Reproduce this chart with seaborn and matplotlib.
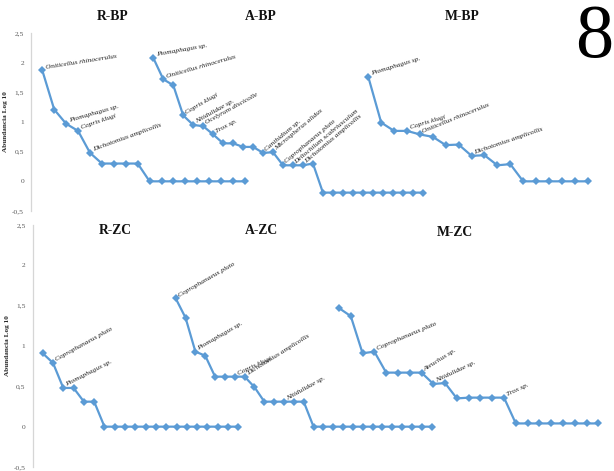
import matplotlib
matplotlib.use("Agg")
import matplotlib.pyplot as plt
import seaborn as sns

sns.set_theme(style="white")
plt.rcParams["font.family"] = ["Liberation Serif", "DejaVu Serif"]

# Log10 abundance per rank (rank-abundance curves)
r_bp = [1.87, 1.21, 0.97, 0.85, 0.48, 0.30, 0.30, 0.30, 0.30,
        0, 0, 0, 0, 0, 0, 0, 0, 0]
a_bp = [2.08, 1.72, 1.62, 1.11, 0.95, 0.93, 0.79, 0.64, 0.64, 0.58, 0.58,
        0.48, 0.49, 0.27, 0.27, 0.27, 0.30,
        -0.19, -0.19, -0.19, -0.19, -0.19, -0.19, -0.19, -0.19, -0.19, -0.19, -0.19]
m_bp = [1.76, 0.99, 0.85, 0.85, 0.79, 0.75, 0.61, 0.62, 0.43, 0.44, 0.27, 0.29,
        0, 0, 0, 0, 0, 0]
r_zc = [0.91, 0.79, 0.48, 0.48, 0.31, 0.31,
        0, 0, 0, 0, 0, 0, 0, 0, 0, 0, 0, 0, 0, 0]
a_zc = [1.59, 1.35, 0.93, 0.88, 0.62, 0.62, 0.62, 0.62, 0.49, 0.31, 0.31, 0.31, 0.31, 0.31,
        0, 0, 0, 0, 0, 0, 0, 0, 0, 0, 0, 0, 0]
m_zc = [1.47, 1.37, 0.91, 0.93, 0.67, 0.67, 0.67, 0.67, 0.53, 0.54, 0.35, 0.36, 0.36, 0.36, 0.36,
        0.04, 0.04, 0.04, 0.04, 0.04, 0.04, 0.04, 0.04]

# Species names attached to ranks: (rank index, name, text angle)
r_bp_labels = [(0, "Oniticellus rhinocerulus", 9), (2, "Ptomaphagus sp.", 16),
               (3, "Copris klugi", 19), (4, "Dichotomius amplicollis", 20)]
a_bp_labels = [(0, "Ptomaphagus sp.", 10), (1, "Oniticellus rhinocerulus", 16),
               (3, "Copris klugi", 30), (4, "Nitidulidae sp.", 29),
               (5, "Ocelyrum discicolle", 29), (6, "Trox sp.", 28),
               (11, "Canthidium sp.", 40), (12, "Microspherus alidus", 40),
               (13, "Coprophanaeus pluto", 40), (14, "Deltochilum scabriusculum", 40),
               (15, "Dichotomius amplicollis", 40)]
m_bp_labels = [(0, "Ptomaphagus sp.", 17), (3, "Copris klugi", 17),
               (4, "Oniticellus rhinocerulus", 22), (8, "Dichotomius amplicollis", 19)]
r_zc_labels = [(1, "Coprophanaeus pluto", 29), (2, "Ptomaphagus sp.", 27)]
a_zc_labels = [(0, "Coprophanaeus pluto", 30), (2, "Ptomaphagus sp.", 30),
               (6, "Copris klugi", 25), (7, "Dichotomius amplicollis", 32),
               (11, "Nitidulidae sp.", 29)]
m_zc_labels = [(3, "Coprophanaeus pluto", 23), (7, "Ateuchus sp.", 32),
               (8, "Nitidulidae sp.", 25), (14, "Trox sp.", 25)]

y_ticks = [-0.5, 0, 0.5, 1, 1.5, 2, 2.5]
y_tick_labels = ["-0,5", "0", "0,5", "1", "1,5", "2", "2,5"]

W, H = 614, 471
LINE = "#5B9BD5"

fig = plt.figure(figsize=(W / 100, H / 100), dpi=100)
fig.patch.set_facecolor("white")


def px_rect(x0, x1, ytop, ybot):
    return [x0 / W, (H - ybot) / H, (x1 - x0) / W, (ybot - ytop) / H]


def base_axis(axis_x, ytop, ybot):
    ax = fig.add_axes(px_rect(axis_x, 612, ytop, ybot))
    ax.set_ylim(-0.5, 2.5)
    ax.set_xlim(0, 1)
    ax.set_xticks([])
    ax.set_yticks(y_ticks)
    ax.set_yticklabels(y_tick_labels)
    ax.tick_params(axis="y", length=0, pad=5, labelsize=5.4, labelcolor="#5a5a5a")
    for s in ["top", "right", "bottom"]:
        ax.spines[s].set_visible(False)
    ax.spines["left"].set_color("#d6d6d6")
    ax.spines["left"].set_linewidth(0.9)
    ax.patch.set_alpha(0)
    ax.set_ylabel("Abundancia Log 10", fontsize=5.2, fontweight="bold", labelpad=3)
    return ax


def curve(values, labels, x0, x1, ytop, ybot):
    ax = fig.add_axes(px_rect(x0, x1, ytop, ybot))
    ax.set_xlim(0, len(values) - 1)
    ax.set_ylim(-0.5, 2.5)
    ax.axis("off")
    ax.patch.set_alpha(0)
    sns.lineplot(x=list(range(len(values))), y=values, ax=ax, color=LINE,
                 linewidth=1.6, marker="D", markersize=4.4, markeredgewidth=0,
                 clip_on=False)
    for i, name, ang in labels:
        ax.annotate(name, xy=(i, values[i]), xytext=(2.5, 1.2),
                    textcoords="offset points", rotation=ang,
                    rotation_mode="anchor", ha="left", va="baseline",
                    fontsize=5.3, style="italic", color="#1a1a1a",
                    annotation_clip=False)
    return ax


# upper panel
TOP_T, TOP_B = 33, 211
base_axis(31, TOP_T, TOP_B)
curve(r_bp, r_bp_labels, 42.3, 245, TOP_T, TOP_B)
curve(a_bp, a_bp_labels, 153.3, 422.7, TOP_T, TOP_B)
curve(m_bp, m_bp_labels, 368.3, 587.7, TOP_T, TOP_B)

# lower panel
BOT_T, BOT_B = 225, 467
base_axis(32.5, BOT_T, BOT_B)
curve(r_zc, r_zc_labels, 42.7, 238.3, BOT_T, BOT_B)
curve(a_zc, a_zc_labels, 175.7, 431.7, BOT_T, BOT_B)
curve(m_zc, m_zc_labels, 339, 598.3, BOT_T, BOT_B)

# site titles
titles = [("R-BP", 113, 17), ("A-BP", 261, 17), ("M-BP", 462, 17),
          ("R-ZC", 115, 231), ("A-ZC", 261, 231), ("M-ZC", 455, 232)]
for txt, cx, cy in titles:
    fig.text(cx / W, 1 - cy / H, txt, ha="center", va="center",
             fontsize=9.8, fontweight="bold", color="#111111")

fig.text(594 / W, 1 - 39 / H, "8", ha="center", va="center",
         fontsize=55, color="black")

fig.savefig("out.png", dpi=100, facecolor="white")
